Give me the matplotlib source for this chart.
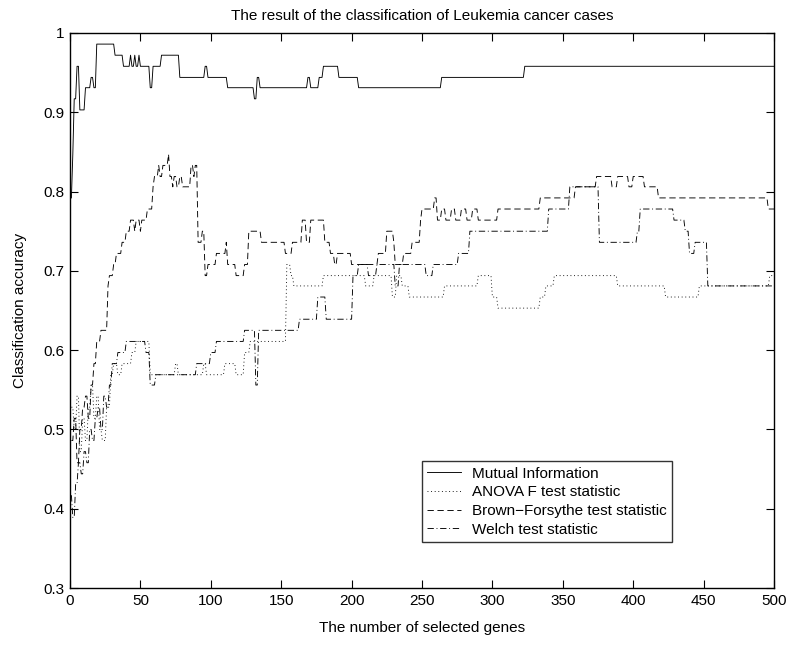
import numpy as np
import matplotlib.pyplot as plt

plt.rcParams['font.family'] = ['Liberation Sans', 'DejaVu Sans']

n_genes = 500

# step data: first gene count of each step, accuracy on that step
mi_start = [1, 2, 3, 5, 7, 11, 15, 17, 19, 32, 38, 43, 44, 46, 47, 49, 50, 57, 59, 65,
            78, 96, 98, 112, 131, 133, 135, 169, 171, 177, 180, 191, 205, 264, 323]
mi_acc = [0.792, 0.847, 0.917, 0.958, 0.903, 0.931, 0.944, 0.931, 0.986, 0.972, 0.958,
          0.972, 0.958, 0.972, 0.958, 0.972, 0.958, 0.931, 0.958, 0.972, 0.944, 0.958,
          0.944, 0.931, 0.917, 0.944, 0.931, 0.944, 0.931, 0.944, 0.958, 0.944, 0.931,
          0.944, 0.958]

anova_start = [1, 3, 5, 7, 9, 11, 13, 15, 17, 19, 21, 23, 26, 29, 31, 34, 37, 44, 47, 57,
               75, 77, 95, 97, 110, 118, 124, 128, 154, 157, 159, 180, 210, 216, 229, 232,
               236, 241, 266, 290, 300, 304, 334, 338, 344, 389, 423, 447, 497]
anova_acc = [0.528, 0.500, 0.542, 0.472, 0.514, 0.486, 0.528, 0.556, 0.514, 0.542, 0.500,
             0.486, 0.528, 0.569, 0.583, 0.569, 0.583, 0.597, 0.611, 0.569, 0.583, 0.569,
             0.583, 0.569, 0.583, 0.569, 0.597, 0.611, 0.708, 0.694, 0.681, 0.694, 0.681,
             0.694, 0.667, 0.694, 0.681, 0.667, 0.681, 0.694, 0.667, 0.653, 0.667, 0.681,
             0.694, 0.681, 0.667, 0.681, 0.694]

bf_start = [1, 3, 5, 7, 9, 11, 13, 15, 17, 19, 22, 27, 28, 31, 33, 37, 40, 43, 46, 47, 50,
            51, 55, 59, 60, 63, 64, 66, 70, 71, 73, 74, 76, 78, 80, 86, 88, 89, 91, 94, 96,
            98, 104, 107, 111, 112, 118, 124, 127, 136, 153, 158, 165, 168, 171, 181, 185,
            188, 190, 200, 219, 225, 230, 231, 237, 243, 249, 250, 259, 261, 264, 267, 271,
            274, 278, 282, 286, 290, 304, 334, 359, 374, 385, 389, 397, 400, 408, 418, 496]
bf_acc = [0.486, 0.514, 0.458, 0.500, 0.528, 0.542, 0.514, 0.556, 0.583, 0.611, 0.625,
          0.681, 0.694, 0.708, 0.722, 0.736, 0.750, 0.764, 0.750, 0.764, 0.750, 0.764, 0.778,
          0.806, 0.819, 0.833, 0.819, 0.833, 0.847, 0.819, 0.806, 0.819, 0.806, 0.819, 0.806,
          0.833, 0.819, 0.833, 0.736, 0.750, 0.694, 0.708, 0.722, 0.722, 0.736, 0.708, 0.694,
          0.708, 0.750, 0.736, 0.722, 0.736, 0.764, 0.736, 0.764, 0.736, 0.722, 0.708, 0.722,
          0.708, 0.722, 0.750, 0.736, 0.708, 0.722, 0.736, 0.764, 0.778, 0.792, 0.764, 0.778,
          0.764, 0.778, 0.764, 0.778, 0.764, 0.778, 0.764, 0.778, 0.792, 0.806, 0.819, 0.806,
          0.819, 0.806, 0.819, 0.806, 0.792, 0.778]

welch_start = [1, 2, 4, 6, 8, 10, 12, 14, 16, 18, 20, 22, 24, 26, 28, 30, 34, 40, 54, 57,
               61, 90, 100, 104, 124, 132, 134, 163, 176, 182, 201, 205, 212, 218, 231, 234,
               253, 258, 276, 284, 340, 355, 376, 403, 405, 429, 437, 440, 444, 453]
welch_acc = [0.417, 0.389, 0.431, 0.458, 0.444, 0.472, 0.458, 0.500, 0.486, 0.514, 0.528,
             0.500, 0.542, 0.528, 0.556, 0.583, 0.597, 0.611, 0.597, 0.556, 0.569, 0.583,
             0.597, 0.611, 0.625, 0.556, 0.625, 0.639, 0.667, 0.639, 0.694, 0.708, 0.694,
             0.708, 0.681, 0.708, 0.694, 0.708, 0.722, 0.750, 0.778, 0.806, 0.736, 0.750,
             0.778, 0.764, 0.750, 0.722, 0.736, 0.681]


def expand(start, acc):
    counts = np.diff(start + [n_genes + 1])
    return np.repeat(acc, counts)


genes = np.arange(1, n_genes + 1)

fig = plt.figure(figsize=(7.9, 6.46), dpi=100)
ax = fig.add_axes([70 / 790, 58 / 646, 704 / 790, 555 / 646])

lw = 0.65
ax.plot(genes, expand(mi_start, mi_acc), color='black', lw=lw, ls='-',
        label='Mutual Information')
ax.plot(genes, expand(anova_start, anova_acc), color='black', lw=lw, ls=(0, (1, 3)),
        label='ANOVA F test statistic')
ax.plot(genes, expand(bf_start, bf_acc), color='black', lw=lw, ls=(0, (7, 4)),
        label='Brown\u2212Forsythe test statistic')
ax.plot(genes, expand(welch_start, welch_acc), color='black', lw=lw, ls=(0, (7, 3, 1, 3)),
        label='Welch test statistic')

ax.set_xlim(0, 500)
ax.set_ylim(0.3, 1)
ax.set_xticks(np.arange(0, 501, 50))
ax.set_yticks([0.3, 0.4, 0.5, 0.6, 0.7, 0.8, 0.9, 1.0])
ax.set_yticklabels(['0.3', '0.4', '0.5', '0.6', '0.7', '0.8', '0.9', '1'])
ax.tick_params(direction='in', top=True, right=True, length=6, width=0.8,
               labelsize=11, pad=4)
for s in ax.spines.values():
    s.set_linewidth(1.0)

ax.set_title('The result of the classification of Leukemia cancer cases', fontsize=11, pad=9)
ax.set_xlabel('The number of selected genes', fontsize=11, labelpad=10)
ax.set_ylabel('Classification accuracy', fontsize=11, labelpad=12)

leg = ax.legend(loc='lower left', bbox_to_anchor=(0.5, 0.083), borderaxespad=0,
                fontsize=11, frameon=True, fancybox=False, handlelength=2.2,
                labelspacing=0.3, borderpad=0.35, handletextpad=0.7)
leg.get_frame().set_edgecolor('black')
leg.get_frame().set_linewidth(1.0)

fig.savefig('out.png', dpi=100)
